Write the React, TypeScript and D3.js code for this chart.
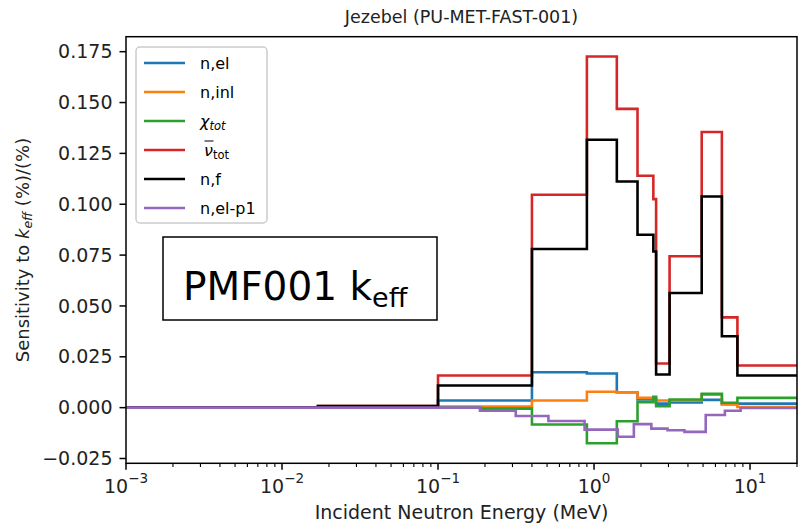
import React from 'react';
import * as d3 from 'd3';

// ---- data ----
const groupEdges = [0.001, 0.017, 0.1, 0.186, 0.4, 0.9, 1.4, 1.9, 2.4, 2.5, 3.05, 4.9, 6.6, 8.3, 20];
const nElValues = [0, 0.0002, 0.0035, 0.0035, 0.0174, 0.0168, 0.0076, 0.004, 0.004, 0.002, 0.0025, 0.0038, 0.0017, 0.002];
const nInlValues = [0, 0, 0.0005, 0.0005, 0.0035, 0.0078, 0.0075, 0.0048, 0.0045, 0.0035, 0.0035, 0.0064, 0.0017, 0.0003];
const chiValues = [0, 0, 0, -0.0005, -0.0083, -0.0175, -0.0067, 0.0027, 0.0053, 0.0007, 0.004, 0.0068, 0.0024, 0.0048];
const nuValues = [0, 0.0008, 0.0158, 0.0158, 0.1047, 0.1726, 0.1469, 0.114, 0.1025, 0.0217, 0.0744, 0.1355, 0.0444, 0.0207];
const nfValues = [0, 0.0008, 0.0109, 0.0109, 0.078, 0.1317, 0.1112, 0.085, 0.0768, 0.0163, 0.0564, 0.1038, 0.0351, 0.0158];
const p1Edges = [0.001, 0.186, 0.315, 0.51, 0.87, 1.42, 1.8, 2.33, 2.96, 3.8, 5.2, 6.9, 8.7, 20];
const nElP1Values = [0, -0.0015, -0.0041, -0.0066, -0.0108, -0.0143, -0.0081, -0.0103, -0.0111, -0.0119, -0.0036, -0.0015, -0.0002];

const seriesNames = ['n,el', 'n,inl', 'chi', 'nu', 'n,f', 'n,el-p1'];
const seriesColors = ['#1f77b4', '#ff7f0e', '#2ca02c', '#d62728', '#000000', '#9467bd'];
const yTickValues = [-0.025, 0, 0.025, 0.05, 0.075, 0.1, 0.125, 0.15, 0.175];
const xTickExponents = [-3, -2, -1, 0, 1];

const FONT = 'DejaVu Sans, sans-serif';

export default function App() {
  const W = 798, H = 525;
  const left = 126, right = 797, top = 36.7, bottom = 463.3;
  const x = d3.scaleLog().domain([1e-3, 20]).range([left, right]);
  const y = d3.scaleLinear().domain([-0.02736, 0.18237]).range([bottom, top]);

  const series = [
    { edges: groupEdges, values: nElValues },
    { edges: groupEdges, values: nInlValues },
    { edges: groupEdges, values: chiValues },
    { edges: groupEdges, values: nuValues },
    { edges: groupEdges, values: nfValues },
    { edges: p1Edges, values: nElP1Values },
  ];

  const line = d3
    .line<[number, number]>()
    .x((d) => x(d[0]))
    .y((d) => y(d[1]))
    .curve(d3.curveStepAfter);

  const pathFor = (edges: number[], values: number[]) => {
    const pts: [number, number][] = values.map((v, i) => [edges[i], v]);
    pts.push([edges[edges.length - 1], values[values.length - 1]]);
    return line(pts) || '';
  };

  const minorTicks: number[] = [];
  for (let e = -3; e <= 1; e++) {
    for (let m = 2; m <= 9; m++) {
      const v = m * Math.pow(10, e);
      if (v <= 20) minorTicks.push(v);
    }
  }

  const tickLen = 6.5;
  const minorLen = 3.8;
  const fmt = (v: number) => {
    const s = Math.abs(v).toFixed(3);
    return v < 0 ? '\u2212' + s : s;
  };

  const legendX = 136, legendY = 47, legendW = 131, legendH = 176;
  const legendRow0 = 63, legendStep = 29;
  const LFS = 16;

  const legendLabel = (i: number, tx: number, ty: number) => {
    const name = seriesNames[i];
    if (name === 'chi') {
      return (
        <text x={tx} y={ty + 6} fontSize={LFS} fontFamily={FONT}>
          <tspan fontStyle="italic">χ</tspan>
          <tspan fontStyle="italic" fontSize={11.5} dy={3}>tot</tspan>
        </text>
      );
    }
    if (name === 'nu') {
      return (
        <g>
          <text x={tx + 4} y={ty + 6} fontSize={LFS} fontFamily={FONT}>
            <tspan fontStyle="italic">ν</tspan>
            <tspan fontSize={11.5} dy={3}>tot</tspan>
          </text>
          <line x1={tx + 4.5} x2={tx + 13.5} y1={ty - 9} y2={ty - 9} stroke="#000" strokeWidth={1} />
        </g>
      );
    }
    return (
      <text x={tx} y={ty + 6} fontSize={LFS} fontFamily={FONT}>
        {name}
      </text>
    );
  };

  return (
    <svg width={W} height={H} style={{ position: 'absolute', left: 0, top: 0, background: '#fff' }}>
      <defs>
        <clipPath id="plotclip">
          <rect x={left} y={top} width={right - left} height={bottom - top} />
        </clipPath>
      </defs>
      <rect x={0} y={0} width={W} height={H} fill="#fff" />

      {/* data lines */}
      <g clipPath="url(#plotclip)">
        {series.map((s, i) => (
          <path
            key={i}
            d={pathFor(s.edges, s.values)}
            fill="none"
            stroke={seriesColors[i]}
            strokeWidth={2.6}
            strokeLinejoin="miter"
          />
        ))}
      </g>

      {/* spines */}
      <rect x={left} y={top} width={right - left} height={bottom - top} fill="none" stroke="#000" strokeWidth={1.5} />

      {/* y ticks */}
      {yTickValues.map((v) => (
        <g key={v}>
          <line x1={left - tickLen} x2={left} y1={y(v)} y2={y(v)} stroke="#000" strokeWidth={1.5} />
          <text
            x={left - tickLen - 7}
            y={y(v)}
            dy="0.35em"
            textAnchor="end"
            fontSize={19}
            fontFamily={FONT}
            fill="#222"
          >
            {fmt(v)}
          </text>
        </g>
      ))}

      {/* x ticks */}
      {minorTicks.map((v) => (
        <line key={'m' + v} x1={x(v)} x2={x(v)} y1={bottom} y2={bottom + minorLen} stroke="#000" strokeWidth={1.1} />
      ))}
      {xTickExponents.map((e) => {
        const xp = x(Math.pow(10, e));
        const sup = e < 0 ? '\u2212' + Math.abs(e) : String(e);
        return (
          <g key={'M' + e}>
            <line x1={xp} x2={xp} y1={bottom} y2={bottom + tickLen} stroke="#000" strokeWidth={1.5} />
            <text x={xp} y={493} textAnchor="middle" fontSize={19} fontFamily={FONT} fill="#222">
              <tspan>10</tspan>
              <tspan fontSize={13.5} dy={-10}>{sup}</tspan>
            </text>
          </g>
        );
      })}

      {/* axis labels */}
      <text x={(left + right) / 2} y={519} textAnchor="middle" fontSize={19} fontFamily={FONT} fill="#222">
        Incident Neutron Energy (MeV)
      </text>
      <text
        transform={`translate(29, ${(top + bottom) / 2}) rotate(-90)`}
        textAnchor="middle"
        fontSize={18}
        fontFamily={FONT}
        fill="#222"
      >
        <tspan>Sensitivity to </tspan>
        <tspan fontStyle="italic">k</tspan>
        <tspan fontStyle="italic" fontSize={12.5} dy={3}>eff</tspan>
        <tspan dy={-3}> (%)/(%)</tspan>
      </text>

      {/* title */}
      <text x={(left + right) / 2} y={23} textAnchor="middle" fontSize={17.5} fontFamily={FONT} fill="#222">
        Jezebel (PU-MET-FAST-001)
      </text>

      {/* legend */}
      <rect
        x={legendX}
        y={legendY}
        width={legendW}
        height={legendH}
        rx={4}
        fill="#fff"
        fillOpacity={0.85}
        stroke="#cccccc"
        strokeWidth={1.5}
      />
      {seriesNames.map((_, i) => {
        const ly = legendRow0 + i * legendStep;
        return (
          <g key={'lg' + i}>
            <line x1={144} x2={185} y1={ly} y2={ly} stroke={seriesColors[i]} strokeWidth={2.6} />
            {legendLabel(i, 200, ly)}
          </g>
        );
      })}

      {/* annotation box */}
      <rect x={163} y={237} width={274} height={83} fill="#fff" stroke="#000" strokeWidth={1.5} />
      <text x={183} y={300} fontSize={39} fontFamily={FONT} fill="#000">
        <tspan>PMF001 k</tspan>
        <tspan fontSize={27} dy={7}>eff</tspan>
      </text>
    </svg>
  );
}
